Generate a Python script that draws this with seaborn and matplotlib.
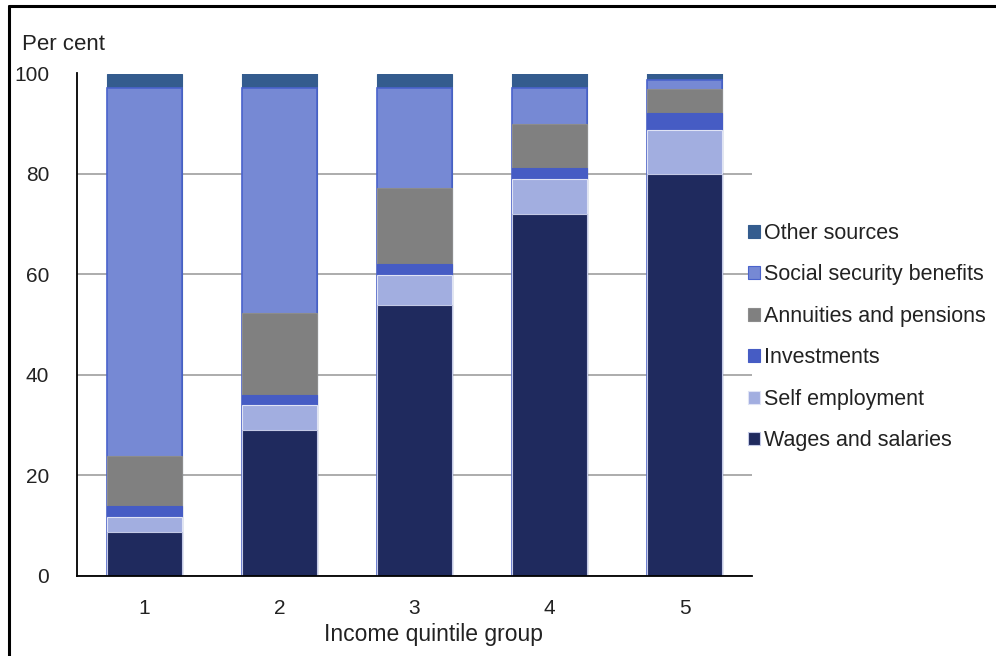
import matplotlib
matplotlib.use("Agg")
import matplotlib.pyplot as plt
import numpy as np
import pandas as pd
import seaborn as sns
from matplotlib.patches import Patch
from matplotlib.lines import Line2D
from matplotlib.ticker import FixedLocator

# Share of gross income by source, per income quintile group (per cent)
quintiles = ["1", "2", "3", "4", "5"]
sources = ["Wages and salaries", "Self employment", "Investments",
           "Annuities and pensions", "Social security benefits", "Other sources"]
wages = [8.6, 29.0, 53.8, 72.0, 80.0]
self_employment = [3.0, 4.9, 6.0, 7.0, 8.7]
investments = [2.2, 2.1, 2.2, 2.1, 3.4]
annuities = [10.1, 16.2, 15.1, 8.9, 4.8]
social_security = [73.3, 45.0, 20.1, 7.2, 1.9]
other_sources = [2.8, 2.8, 2.8, 2.8, 1.2]

colors = ["#1f2a5e", "#a2aee0", "#465cc4", "#808080", "#7689d4", "#345c8e"]
edges = ["#c3c9e6", "#dfe3f5", "#465cc4", "#8c8c8c", "#4a63cc", "#345c8e"]

sns.set_style("white")
plt.rcParams["font.family"] = ["Liberation Sans", "DejaVu Sans"]

df = pd.DataFrame({"quintile": quintiles,
                   sources[0]: wages, sources[1]: self_employment,
                   sources[2]: investments, sources[3]: annuities,
                   sources[4]: social_security, sources[5]: other_sources})
cum = df[sources].cumsum(axis=1)

fig = plt.figure(figsize=(9.96, 6.56), dpi=100)
ax = fig.add_axes([77 / 996, 1 - 575.5 / 656, (752 - 77) / 996, (575.5 - 73.5) / 656])

# stacked bars: draw cumulative totals from the top layer down
for i in range(len(sources) - 1, -1, -1):
    s = sources[i]
    sns.barplot(x=df["quintile"], y=cum[s], order=quintiles, color=colors[i],
                saturation=1, width=0.56, edgecolor=edges[i],
                linewidth=1.2 if i == 4 else 0.8, ax=ax, zorder=3)

ax.set_ylim(0, 100)
ax.set_xlim(-0.5, 4.5)
ax.set_yticks(range(0, 101, 20))
ax.yaxis.grid(True, color="#a6a6a6", linewidth=1.3, zorder=0)
ax.xaxis.grid(False)
ax.set_axisbelow(True)
for side in ["top", "right"]:
    ax.spines[side].set_visible(False)
for side in ["left", "bottom"]:
    ax.spines[side].set_color("black")
    ax.spines[side].set_linewidth(1.3)
    ax.spines[side].set_zorder(5)

ax.set_xlabel("")
ax.set_ylabel("")
ax.tick_params(axis="x", which="major", length=0, labelsize=15, pad=17, colors="#222222")
ax.xaxis.set_minor_locator(FixedLocator(np.arange(-0.5, 5, 1.0)))
ax.tick_params(axis="x", which="minor", length=7, width=1.3, direction="out", color="black")
ax.tick_params(axis="y", length=6, width=1.3, direction="out", color="black",
               labelsize=15, pad=14, labelcolor="#222222")

fig.text(22 / 996, 1 - 44 / 656, "Per cent", ha="left", va="center", fontsize=16, color="#222222")
fig.text(434 / 996, 1 - 635 / 656, "Income quintile group", ha="center", va="center",
         fontsize=16.5, color="#222222")

handles = [Patch(facecolor=colors[i], edgecolor=edges[i], linewidth=0.8) for i in range(len(sources) - 1, -1, -1)]
labels = sources[::-1]
fig.legend(handles, labels, loc="upper left", bbox_to_anchor=(748 / 996, 1 - 223 / 656),
           frameon=False, fontsize=15.5, handlelength=0.55, handleheight=0.55,
           handletextpad=0.2, labelspacing=0.95, borderaxespad=0, borderpad=0,
           labelcolor="#222222")

# frame lines along the top and left edges
fig.add_artist(Line2D([9 / 996, 9 / 996], [0, 1 - 6 / 656], transform=fig.transFigure,
                      color="black", linewidth=2.2))
fig.add_artist(Line2D([9 / 996, 1], [1 - 6 / 656, 1 - 6 / 656], transform=fig.transFigure,
                      color="black", linewidth=2.2))

fig.savefig("out.png", dpi=100)
